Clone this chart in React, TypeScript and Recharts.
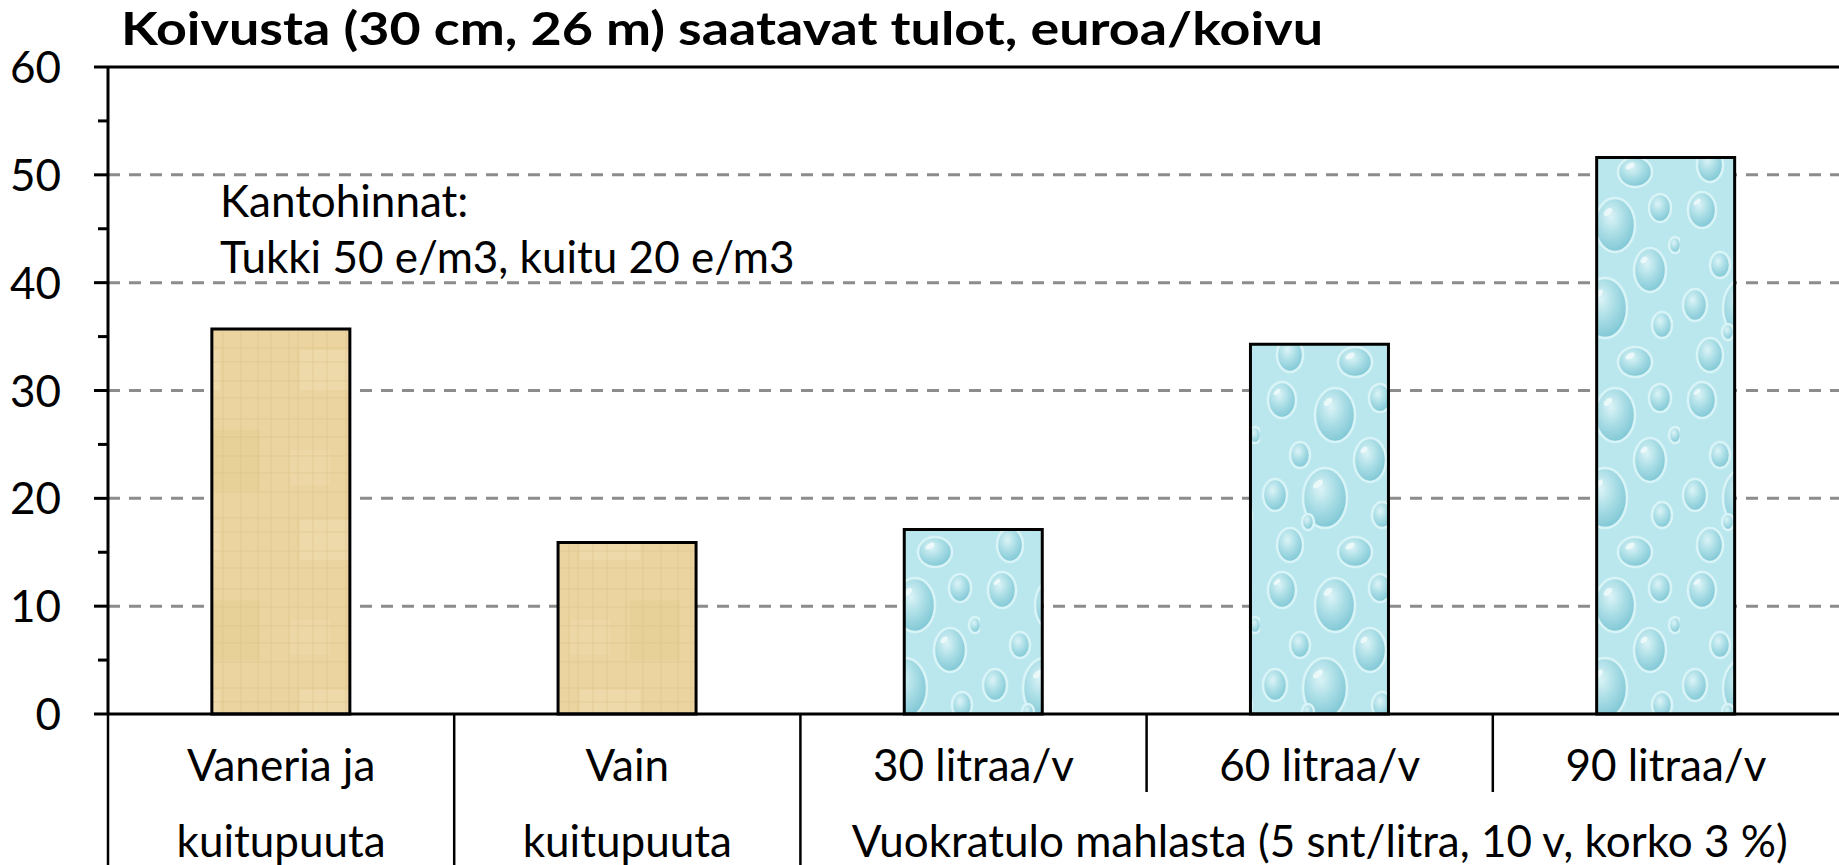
import { BarChart, Bar, XAxis, YAxis, CartesianGrid, ReferenceLine, Cell } from "recharts";

const categories = ["Vaneria ja", "Vain", "30 litraa/v", "60 litraa/v", "90 litraa/v"];
const groupLabels = ["kuitupuuta", "kuitupuuta", "Vuokratulo mahlasta (5 snt/litra, 10 v, korko 3 %)"];
const groupOf = [0, 1, 2, 2, 2];
const values = [35.7, 15.9, 17.1, 34.3, 51.6];
const fillKind = ["wood", "wood", "water", "water", "water"];
const yTicks = [0, 5, 10, 15, 20, 25, 30, 35, 40, 45, 50, 55, 60];
const gridValues = [10, 20, 30, 40, 50];

const data = categories.map((name, i) => ({ name, value: values[i] }));

const W = 1839;
const H = 865;
const FONT = "Lato, 'Open Sans', sans-serif";
const FS = 44;

function YTick(props: any) {
  const { x, y, payload } = props;
  const major = payload.value % 10 === 0;
  return (
    <g>
      <line x1={x - (major ? 14 : 10)} x2={x} y1={y} y2={y} stroke="#000" strokeWidth={3} />
      {major && (
        <text x={x - 47} y={y + 16} textAnchor="end" fontFamily={FONT} fontSize={FS} fill="#000">
          {payload.value}
        </text>
      )}
    </g>
  );
}

function XTick(props: any) {
  const { x, y, payload } = props;
  const i = payload.index ?? props.index;
  const half = payload.offset ?? 173;
  const left = x - half;
  const g = groupOf[i];
  const first = i === 0 || groupOf[i - 1] !== g;
  let last = i;
  while (last + 1 < groupOf.length && groupOf[last + 1] === g) last++;
  return (
    <g>
      <line x1={left} x2={left} y1={y} y2={first ? H : y + 78} stroke="#000" strokeWidth={2.5} />
      <text x={x} y={y + 67} textAnchor="middle" fontFamily={FONT} fontSize={FS} fill="#000">
        {categories[i]}
      </text>
      {first && (
        <text x={x + (last - i) * half} y={y + 143} textAnchor="middle" fontFamily={FONT} fontSize={FS} fill="#000">
          {groupLabels[g]}
        </text>
      )}
    </g>
  );
}

export default function App() {
  return (
    <div style={{ position: "absolute", left: 0, top: 0, width: W, height: H, background: "#fff", overflow: "hidden" }}>
      <BarChart width={W} height={H} data={data} margin={{ top: 67, right: 0, bottom: 0, left: 0 }} barCategoryGap="30%">
        <defs>
          <radialGradient id="drop" cx="40%" cy="35%" r="65%">
            <stop offset="0%" stopColor="#dff5f8" />
            <stop offset="50%" stopColor="#aadde6" />
            <stop offset="100%" stopColor="#7cc5d4" />
          </radialGradient>
          <pattern id="water" patternUnits="userSpaceOnUse" width="140" height="190">
            <rect width="140" height="190" fill="#bae7ee" />
            <g stroke="#dcf5f8" strokeWidth="2.5" fill="url(#drop)" opacity="0.9">
              <ellipse cx="22" cy="20" rx="14" ry="18" />
              <ellipse cx="75" cy="35" rx="20" ry="27" />
              <ellipse cx="120" cy="18" rx="11" ry="14" />
              <ellipse cx="40" cy="75" rx="10" ry="13" />
              <ellipse cx="110" cy="80" rx="16" ry="22" />
              <ellipse cx="15" cy="115" rx="12" ry="16" />
              <ellipse cx="65" cy="118" rx="22" ry="30" />
              <ellipse cx="122" cy="135" rx="10" ry="13" />
              <ellipse cx="30" cy="165" rx="13" ry="17" />
              <ellipse cx="95" cy="172" rx="17" ry="15" />
              <ellipse cx="135" cy="55" rx="6" ry="8" />
              <ellipse cx="48" cy="142" rx="6" ry="8" />
            </g>
            <g fill="#f4fcfd" opacity="0.8">
              <ellipse cx="68" cy="22" rx="5" ry="3" transform="rotate(-40 68 22)" />
              <ellipse cx="58" cy="104" rx="6" ry="3" transform="rotate(-40 58 104)" />
              <ellipse cx="104" cy="70" rx="4" ry="2.5" transform="rotate(-40 104 70)" />
              <ellipse cx="17" cy="12" rx="4" ry="2" transform="rotate(-40 17 12)" />
              <ellipse cx="90" cy="166" rx="5" ry="2.5" transform="rotate(-30 90 166)" />
            </g>
          </pattern>
          <pattern id="wood" patternUnits="userSpaceOnUse" width="140" height="170">
            <rect width="140" height="170" fill="#ebd4a0" />
            <rect x="20" y="10" width="60" height="40" fill="#f2e0b8" opacity="0.4" />
            <rect x="70" y="90" width="50" height="60" fill="#e2c88b" opacity="0.35" />
            <rect x="10" y="110" width="40" height="35" fill="#f0dcb0" opacity="0.4" />
            <g stroke="#d6bb80" strokeWidth="1" opacity="0.45">
              <line x1="0" y1="8" x2="140" y2="8" />
              <line x1="0" y1="22" x2="140" y2="22" />
              <line x1="0" y1="41" x2="140" y2="41" />
              <line x1="0" y1="58" x2="140" y2="58" />
              <line x1="0" y1="79" x2="140" y2="79" />
              <line x1="0" y1="97" x2="140" y2="97" />
              <line x1="0" y1="116" x2="140" y2="116" />
              <line x1="0" y1="133" x2="140" y2="133" />
              <line x1="0" y1="152" x2="140" y2="152" />
              <line x1="9" y1="0" x2="9" y2="170" />
              <line x1="18" y1="0" x2="18" y2="170" />
              <line x1="33" y1="0" x2="33" y2="170" />
              <line x1="47" y1="0" x2="47" y2="170" />
              <line x1="66" y1="0" x2="66" y2="170" />
              <line x1="83" y1="0" x2="83" y2="170" />
              <line x1="101" y1="0" x2="101" y2="170" />
              <line x1="118" y1="0" x2="118" y2="170" />
              <line x1="131" y1="0" x2="131" y2="170" />
            </g>
          </pattern>
        </defs>
        <CartesianGrid
          vertical={false}
          horizontalValues={gridValues}
          stroke="#8c8c8c"
          strokeWidth={3}
          strokeDasharray="12 9"
        />
        <XAxis
          dataKey="name"
          height={H - 714}
          axisLine={{ stroke: "#000", strokeWidth: 3 }}
          tickLine={false}
          tickSize={0}
          tickMargin={0}
          interval={0}
          tick={<XTick />}
        />
        <YAxis
          domain={[0, 60]}
          ticks={yTicks}
          interval={0}
          width={108}
          axisLine={{ stroke: "#000", strokeWidth: 3 }}
          tickLine={false}
          tickSize={0}
          tickMargin={0}
          tick={<YTick />}
        />
        <ReferenceLine y={60} stroke="#000" strokeWidth={3} />
        <Bar dataKey="value" stroke="#000" strokeWidth={3} isAnimationActive={false}>
          {data.map((d, i) => (
            <Cell key={d.name} fill={`url(#${fillKind[i]})`} />
          ))}
        </Bar>
        <text
          x={121}
          y={45}
          fontFamily={FONT}
          fontWeight="bold"
          fontSize={45}
          fill="#000"
          textLength={1202}
          lengthAdjust="spacingAndGlyphs"
        >
          Koivusta (30 cm, 26 m) saatavat tulot, euroa/koivu
        </text>
        <text x={220} y={217} fontFamily={FONT} fontSize={FS} fill="#000">
          Kantohinnat:
        </text>
        <text x={220} y={273} fontFamily={FONT} fontSize={FS} fill="#000">
          Tukki 50 e/m3, kuitu 20 e/m3
        </text>
      </BarChart>
    </div>
  );
}
